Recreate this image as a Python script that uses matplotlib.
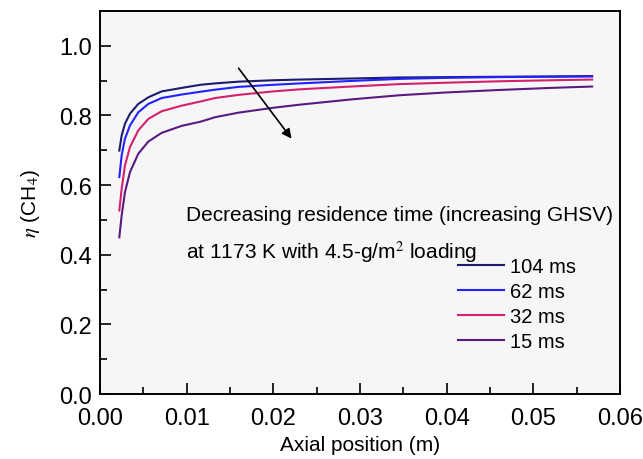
import numpy as np
import matplotlib
matplotlib.use("Agg")
from matplotlib import pyplot as plt
from matplotlib.ticker import MultipleLocator

# Axial position (m)
x = [0.00223, 0.0025, 0.00288, 0.00346, 0.00442, 0.00558, 0.00712, 0.00942,
     0.0116, 0.0133, 0.0160, 0.0200, 0.0231, 0.0290, 0.0346, 0.0400,
     0.0460, 0.0520, 0.0568]

# Methane conversion for each residence time
eta_104 = [0.699, 0.742, 0.776, 0.805, 0.833, 0.852, 0.869, 0.879,
           0.888, 0.892, 0.897, 0.901, 0.903, 0.906, 0.909, 0.910,
           0.911, 0.912, 0.913]
eta_62 = [0.623, 0.685, 0.733, 0.771, 0.809, 0.833, 0.850, 0.860,
          0.868, 0.874, 0.882, 0.888, 0.892, 0.899, 0.905, 0.908,
          0.910, 0.911, 0.912]
eta_32 = [0.527, 0.589, 0.656, 0.709, 0.757, 0.790, 0.812, 0.828,
          0.840, 0.850, 0.859, 0.869, 0.875, 0.883, 0.890, 0.894,
          0.898, 0.901, 0.903]
eta_15 = [0.450, 0.512, 0.579, 0.637, 0.690, 0.725, 0.750, 0.770,
          0.782, 0.795, 0.808, 0.822, 0.831, 0.846, 0.858, 0.866,
          0.873, 0.879, 0.883]

labels = ["104 ms", "62 ms", "32 ms", "15 ms"]
colors = ["#1c1c70", "#2222ff", "#d4206e", "#5c1a80"]

plt.rcParams["font.family"] = ["Liberation Sans", "DejaVu Sans"]
plt.rcParams["mathtext.fontset"] = "stix"

fig = plt.figure(figsize=(6.43, 4.6), dpi=100)
ax = fig.add_axes([0.1555, 0.1413, 0.8085, 0.8327])
ax.set_facecolor("#f6f6f6")

for y, lab, c in zip([eta_104, eta_62, eta_32, eta_15], labels, colors):
    ax.plot(x, y, color=c, lw=1.5, label=lab)

ax.set_xlim(0, 0.06)
ax.set_ylim(0, 1.1)
ax.xaxis.set_minor_locator(MultipleLocator(0.005))
ax.yaxis.set_minor_locator(MultipleLocator(0.1))
ax.set_xticks(np.arange(0, 0.061, 0.01))
ax.set_xticklabels(["0.00", "0.01", "0.02", "0.03", "0.04", "0.05", "0.06"])
ax.set_yticks(np.arange(0, 1.01, 0.2))
ax.set_yticklabels(["0.0", "0.2", "0.4", "0.6", "0.8", "1.0"])
ax.tick_params(which="major", direction="in", length=8, width=1.2,
               labelsize=17)
ax.tick_params(axis="x", which="major", pad=9)
ax.tick_params(axis="y", which="major", pad=6)
ax.tick_params(which="minor", direction="in", length=5, width=1.2)
for s in ax.spines.values():
    s.set_linewidth(1.4)

ax.set_xlabel("Axial position (m)", fontsize=15, labelpad=5)
ax.set_ylabel(r"$\eta$ (CH$_4$)", fontsize=15, labelpad=12)

ax.annotate("", xy=(0.0223, 0.727), xytext=(0.0158, 0.942),
            arrowprops=dict(arrowstyle="-|>", color="black", lw=1.2,
                            mutation_scale=14))
ax.text(0.0099, 0.515, "Decreasing residence time (increasing GHSV)",
        fontsize=15, va="center")
ax.text(0.0099, 0.41, "at 1173 K with 4.5-g/m$^2$ loading",
        fontsize=15, va="center")

ax.legend(loc="upper left", bbox_to_anchor=(0.654, 0.405), frameon=False,
          fontsize=14.5, handlelength=2.3, handletextpad=0.3,
          labelspacing=0.3)

fig.savefig("out.png", dpi=100)
